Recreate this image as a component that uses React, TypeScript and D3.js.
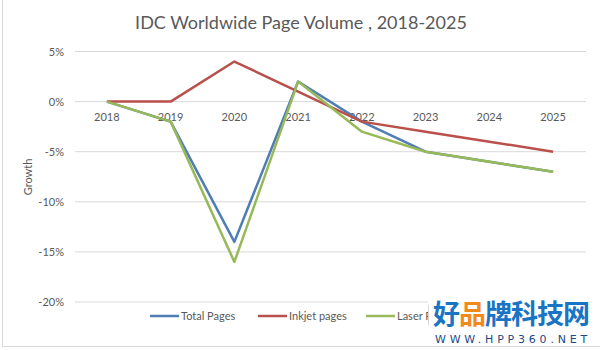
import React from "react";
import * as d3 from "d3";

const years = ["2018", "2019", "2020", "2021", "2022", "2023", "2024", "2025"];
const totalPages = [0, -2, -14, 2, -2, -5, -6, -7];
const inkjetPages = [0, 0, 4, 1, -2, -3, -4, -5];
const laserPages = [0, -2, -16, 2, -3, -5, -6, -7];
const yTicks = [5, 0, -5, -10, -15, -20];
const seriesNames = ["Total Pages", "Inkjet pages", "Laser Pages"];
const seriesColors = ["#4f7db4", "#b9504c", "#97b95a"];

export default function App() {
  const W = 600, H = 350;
  const x = d3.scaleBand<string>().domain(years).range([75, 585]);
  const y = d3.scaleLinear().domain([-20, 5]).range([302, 51.5]);
  const cx = (yr: string) => (x(yr) ?? 0) + x.bandwidth() / 2;
  const line = d3.line<number>().x((_, i) => cx(years[i])).y((v) => y(v));
  const series = [totalPages, inkjetPages, laserPages];
  const font = "Lato, 'Open Sans', sans-serif";
  const legendX = [150, 258, 366];
  return (
    <svg width={W} height={H} style={{ position: "absolute", left: 0, top: 0 }} fontFamily={font}>
      <rect x={0} y={0} width={W} height={H} fill="#fff" />
      <rect x={2.5} y={-2} width={W + 5} height={H - 1.5} fill="none" stroke="#d9d9d9" strokeWidth={1} />
      <text x={301} y={29} textAnchor="middle" fontSize={18} fill="#595959">
        IDC Worldwide Page Volume , 2018-2025
      </text>
      {yTicks.map((t) => (
        <g key={t}>
          <line x1={75} x2={586} y1={y(t)} y2={y(t)} stroke="#d9d9d9" strokeWidth={1} />
          <text x={64} y={y(t) + 4} textAnchor="end" fontSize={11} fill="#595959">
            {t}%
          </text>
        </g>
      ))}
      {years.map((yr) => (
        <text key={yr} x={cx(yr)} y={121} textAnchor="middle" fontSize={11} fill="#595959">
          {yr}
        </text>
      ))}
      <text transform={`translate(32,177) rotate(-90)`} textAnchor="middle" fontSize={11} fill="#595959">
        Growth
      </text>
      {series.map((s, i) => (
        <path key={i} d={line(s) ?? ""} fill="none" stroke={seriesColors[i]} strokeWidth={2.5} strokeLinejoin="round" />
      ))}
      {seriesNames.map((n, i) => (
        <g key={n}>
          <line x1={legendX[i]} x2={legendX[i] + 29} y1={316} y2={316} stroke={seriesColors[i]} strokeWidth={2.5} />
          <text x={legendX[i] + 31} y={320} fontSize={11} fill="#595959">
            {n}
          </text>
        </g>
      ))}
      <rect x={428} y={296} width={172} height={48} fill="#fff" />
      <line x1={428.5} x2={428.5} y1={305} y2={325} stroke="#d9d9d9" strokeWidth={1} />
      <text x={433} y={324} fontSize={27} fontWeight="bold" fontFamily="'Noto Sans CJK SC', sans-serif" fill="#1a74c4" letterSpacing={-1}>
        好<tspan fill="#f08a1c">品</tspan>牌科技网
      </text>
      <text x={435} y={343} fontSize={11} fontFamily="'DejaVu Sans', sans-serif" fill="#1b4a86" letterSpacing={3.8}>
        WWW.HPP360.NET
      </text>
    </svg>
  );
}
